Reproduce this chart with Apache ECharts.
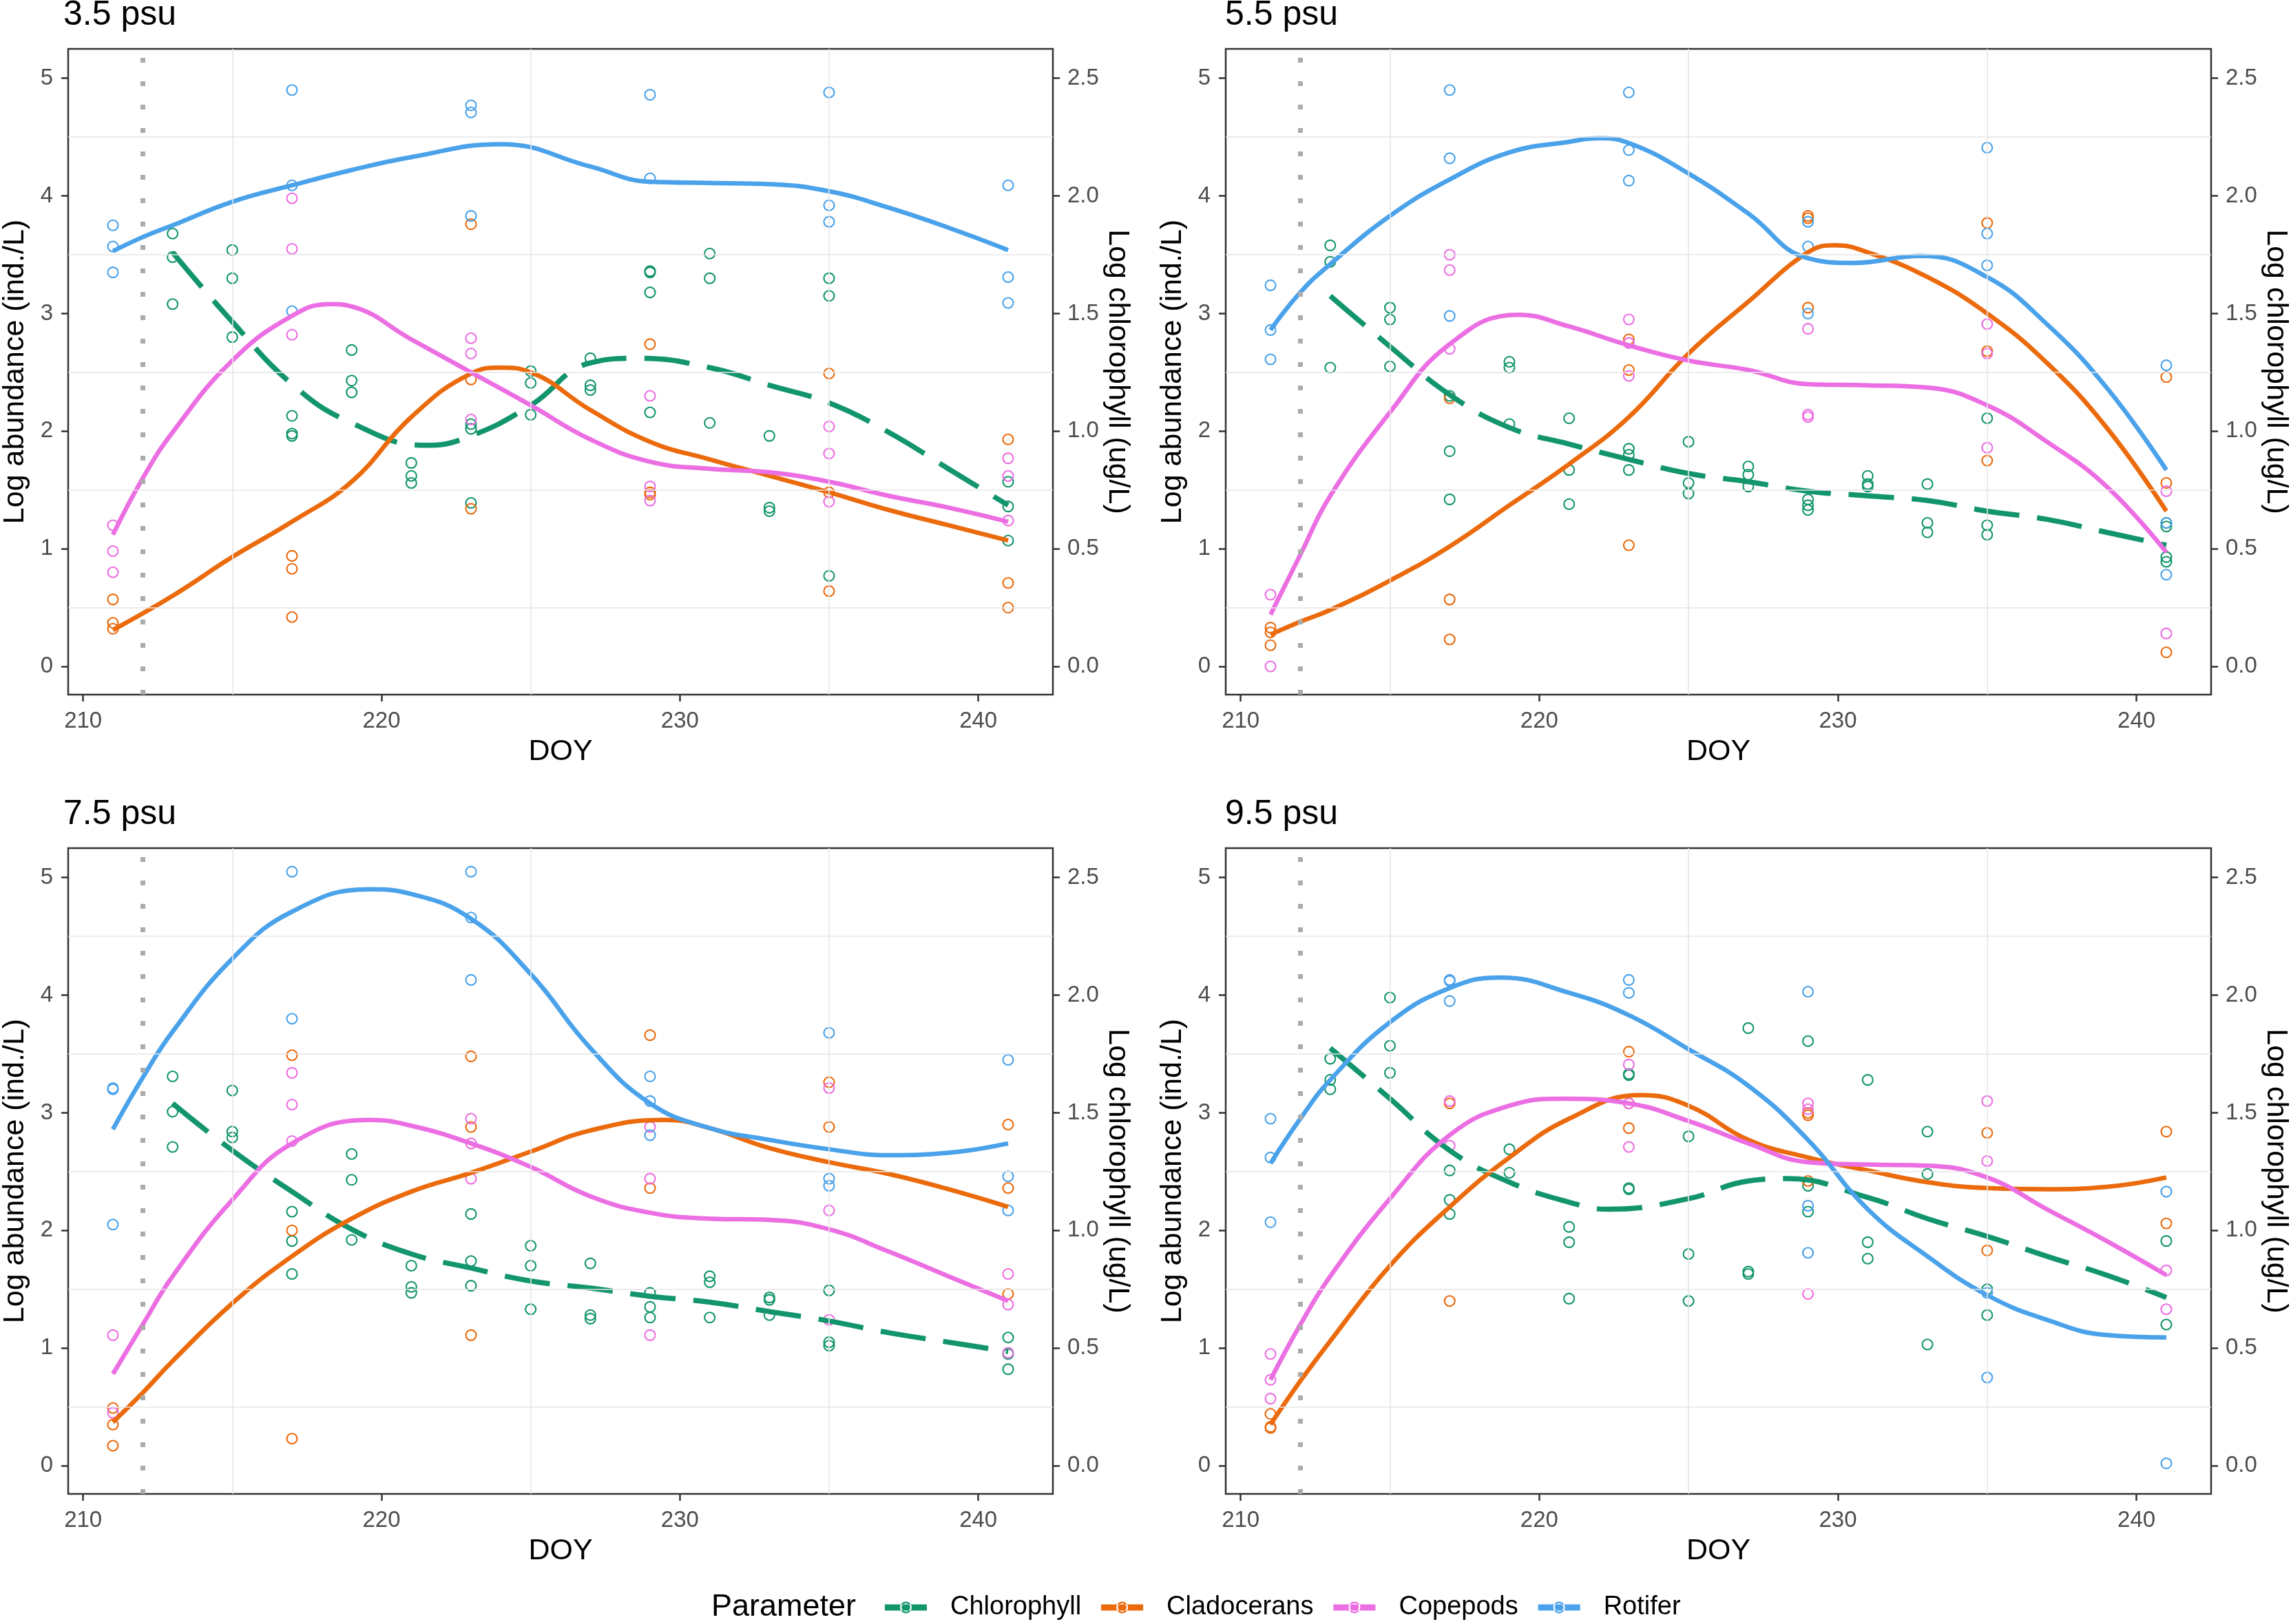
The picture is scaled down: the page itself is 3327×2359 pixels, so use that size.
<!DOCTYPE html>
<html>
<head>
<meta charset="utf-8">
<script src="https://cdn.jsdelivr.net/npm/echarts@6/dist/echarts.min.js"></script>
<style>
html,body{margin:0;padding:0;background:#ffffff;}
#chart{width:3327px;height:2359px;}
</style>
</head>
<body>
<div id="chart"></div>
<script>
// ---------- tick labels / categories ----------
const panelTitles = ['3.5 psu', '5.5 psu', '7.5 psu', '9.5 psu'];
const seriesNames = ['Chlorophyll', 'Cladocerans', 'Copepods', 'Rotifer'];
const xTicks = [210, 220, 230, 240];
const yTicksLeft = [0, 1, 2, 3, 4, 5];
const yTicksRight = [0, 0.5, 1, 1.5, 2, 2.5];
const gridYs = [0.5, 1.5, 2.5, 3.5, 4.5];
const gridXs = [215, 225, 235];
const eventDay = 212;

// sampling days of the observations
const zooDays = [211, 217, 223, 229, 235, 241];
const chlDays = [213, 215, 217, 219, 221, 223, 225, 227, 229, 231, 233, 235, 241];

// ---------- 3.5 psu (observations; chlorophyll on the right axis) ----------
const rot35 = [[3.75,3.57,3.35],[4.90,4.09,3.02],[4.77,4.71,3.83],[4.86,4.15],[4.88,3.92,3.78],[4.09,3.31,3.09]];
const cla35 = [[0.57,0.37,0.32],[0.94,0.83,0.42],[3.76,2.44,1.34],[2.74,1.48,1.46],[2.49,1.48,0.64],[1.93,0.71,0.50]];
const cop35 = [[1.20,0.98,0.80],[3.98,3.55,2.82],[2.79,2.66,2.10],[2.30,1.53,1.41],[2.04,1.81,1.40],[1.77,1.62,1.24]];
const chl35 = [[1.84,1.74,1.54],[1.77,1.65,1.40],[1.065,0.99,0.98],[1.345,1.215,1.165],[0.865,0.81,0.78],[1.03,1.01,0.695],[1.255,1.205,1.07],[1.31,1.195,1.175],[1.68,1.675,1.59,1.08],[1.755,1.65,1.035],[0.98,0.675,0.66],[1.65,1.575,0.385],[0.785,0.68,0.535]];
// smoothed curves: [DOY, value]
const rotFit35 = [[211,3.53],[212,3.65],[213,3.75],[215,3.95],[217,4.09],[219,4.22],[221,4.33],[224,4.44],[227,4.25],[229,4.12],[231,4.11],[233,4.10],[235,4.04],[237,3.90],[239,3.73],[241,3.54]];
const claFit35 = [[211,0.31],[213,0.60],[215,0.93],[217,1.23],[219,1.57],[221,2.12],[223,2.49],[224,2.54],[225,2.50],[227,2.18],[229,1.91],[231,1.76],[233,1.62],[235,1.48],[237,1.33],[239,1.20],[241,1.07]];
const copFit35 = [[211,1.12],[212,1.60],[213,1.99],[215,2.60],[217,2.98],[218.3,3.08],[219,3.06],[221,2.78],[223,2.50],[225,2.22],[227,1.93],[229,1.74],[231,1.68],[233,1.65],[235,1.57],[237,1.45],[239,1.35],[241,1.23]];
const chlFit35 = [[213,1.76],[215,1.465],[217,1.20],[219,1.035],[221.5,0.94],[223,0.98],[225,1.11],[227,1.29],[228.6,1.31],[231,1.27],[233,1.195],[235,1.12],[237,0.995],[239,0.84],[241,0.685]];

// ---------- 5.5 psu ----------
const rot55 = [[3.24,2.86,2.61],[4.90,4.32,2.98],[4.88,4.39,4.13],[3.78,3.57,3.00],[4.41,3.68,3.41],[2.56,1.22,0.78]];
const cla55 = [[0.33,0.29,0.18],[2.28,0.57,0.23],[2.78,2.52,1.03],[3.83,3.81,3.05],[3.77,2.68,1.75],[2.46,1.56,0.12]];
const cop55 = [[0.61,0.0],[3.50,3.37,2.70],[2.95,2.75,2.47],[2.87,2.14,2.12],[2.91,2.66,1.86],[1.49,0.28]];
const chl55 = [[1.79,1.72,1.27],[1.525,1.475,1.275],[1.15,0.915,0.71],[1.295,1.27,1.03],[1.055,0.835,0.69],[0.925,0.90,0.835],[0.955,0.78,0.735],[0.85,0.815,0.765],[0.71,0.685,0.665],[0.81,0.775,0.765],[0.775,0.61,0.57],[1.055,0.60,0.56],[0.61,0.595,0.465,0.445]];
const rotFit55 = [[211,2.86],[212,3.18],[213,3.42],[215,3.83],[217,4.14],[219,4.37],[221,4.46],[222,4.49],[223,4.45],[225,4.19],[227,3.85],[229,3.47],[230.5,3.43],[232.8,3.49],[235,3.31],[237,2.91],[239,2.37],[241,1.67]];
const claFit55 = [[211,0.27],[212,0.38],[213,0.48],[215,0.73],[217,1.02],[219,1.37],[221,1.72],[223,2.12],[225,2.66],[227,3.10],[229,3.52],[229.9,3.58],[231,3.52],[233,3.31],[235,3.00],[237,2.58],[239,2.03],[241,1.32]];
const copFit55 = [[211,0.44],[212,0.95],[213,1.45],[215,2.16],[217,2.74],[219.3,2.99],[221,2.89],[223,2.73],[225,2.60],[227,2.52],[229,2.40],[231,2.39],[233,2.37],[235,2.22],[237,1.91],[239,1.53],[241,0.97]];
const chlFit55 = [[213,1.575],[215,1.36],[217,1.155],[219,1.015],[221,0.945],[223,0.88],[225,0.82],[227,0.785],[229,0.745],[231,0.725],[233,0.705],[235,0.66],[237,0.625],[239,0.57],[241,0.515]];

// ---------- 7.5 psu ----------
const rot75 = [[3.21,3.20,2.05],[5.05,3.80],[5.05,4.66,4.13],[3.31,3.10,2.81],[3.68,2.44,2.38],[3.45,2.46,2.17]];
const cla75 = [[0.49,0.35,0.17],[3.49,2.00,0.23],[3.48,2.88,1.11],[3.66,2.36],[3.26,2.88],[2.90,2.36,1.46]];
const cop75 = [[1.11,0.45],[3.34,3.07,2.76],[2.95,2.74,2.44],[2.88,2.44,1.11],[3.21,2.17,1.24],[1.63,1.37,0.96]];
const chl75 = [[1.655,1.505,1.355],[1.595,1.42,1.395],[1.08,0.955,0.815],[1.325,1.215,0.96],[0.85,0.76,0.735],[1.07,0.87,0.765],[0.935,0.85,0.665],[0.86,0.64,0.625],[0.735,0.675,0.63],[0.805,0.78,0.63],[0.715,0.705,0.64],[0.745,0.525,0.51],[0.545,0.475,0.41]];
const rotFit75 = [[211,2.86],[212,3.30],[213,3.69],[215,4.31],[217,4.71],[219.6,4.90],[221,4.86],[223,4.65],[225,4.18],[227,3.55],[229,3.08],[231,2.87],[233,2.77],[235,2.69],[237,2.64],[239,2.66],[241,2.74]];
const claFit75 = [[211,0.37],[212,0.62],[213,0.89],[215,1.38],[217,1.78],[219,2.10],[221,2.33],[223,2.49],[225,2.67],[227,2.85],[229.5,2.94],[231,2.87],[233,2.70],[235,2.58],[237,2.48],[239,2.35],[241,2.20]];
const copFit75 = [[211,0.78],[212,1.20],[213,1.61],[215,2.26],[217,2.74],[219.6,2.94],[221,2.89],[223,2.74],[225,2.54],[227,2.29],[229,2.15],[231,2.10],[233,2.09],[235,2.01],[237,1.82],[239,1.61],[241,1.40]];
const chlFit75 = [[213,1.54],[215,1.34],[217,1.165],[219,1.005],[221,0.90],[223,0.84],[225,0.785],[227,0.755],[229,0.72],[231,0.695],[233,0.655],[235,0.615],[237,0.565],[239,0.525],[241,0.485]];

// ---------- 9.5 psu ----------
const rot95 = [[2.95,2.62,2.07],[4.13,4.12,3.95],[4.13,4.02],[4.03,2.21,1.81],[1.47,0.75],[2.33,0.02]];
const cla95 = [[0.44,0.33,0.32],[3.08,1.40],[3.52,3.08,2.87],[3.00,2.98,2.42],[2.83,1.83],[2.84,2.06]];
const cop95 = [[0.95,0.73,0.57],[3.10,2.72],[3.41,3.08,2.71],[3.08,3.03,1.46],[3.10,2.59],[1.66,1.33]];
const chl95 = [[1.73,1.64,1.60],[1.99,1.785,1.67],[1.255,1.13,1.07],[1.345,1.245],[1.015,0.95,0.71],[1.665,1.66,1.18,1.175],[1.40,0.90,0.70],[1.86,0.825,0.815],[1.805,1.19,1.08],[1.64,0.95,0.88],[1.42,1.24,0.515],[0.75,0.64],[0.955,0.60]];
const rotFit95 = [[211,2.57],[212,2.95],[213,3.28],[215,3.77],[217,4.06],[218.7,4.15],[221,4.02],[223,3.83],[225,3.54],[227,3.23],[229,2.77],[231,2.18],[233,1.78],[235,1.45],[237,1.24],[239,1.11],[241,1.09]];
const claFit95 = [[211,0.35],[212,0.72],[213,1.06],[215,1.70],[217,2.20],[219,2.62],[221,2.95],[223.4,3.15],[225,3.06],[227,2.77],[229,2.62],[231,2.51],[233,2.41],[235,2.36],[237,2.35],[239,2.37],[241,2.45]];
const copFit95 = [[211,0.73],[212,1.20],[213,1.61],[215,2.27],[217,2.81],[219,3.06],[220.8,3.12],[223,3.08],[225,2.93],[227,2.74],[229,2.58],[231,2.56],[233,2.55],[235,2.45],[237,2.18],[239,1.91],[241,1.62]];
const chlFit95 = [[213,1.775],[215,1.56],[217,1.34],[219,1.205],[221,1.12],[222.3,1.09],[225,1.135],[227,1.21],[228.3,1.22],[231,1.14],[233,1.05],[235,0.975],[237,0.89],[239,0.81],[241,0.715]];

// ---------- styling / layout ----------
const FONT = "'Liberation Sans', Arial, Helvetica, sans-serif";
const COLORS = {Chlorophyll:'#12956D', Cladocerans:'#EB6A0C', Copepods:'#EC6EE3', Rotifer:'#4AA2EA'};
const layout = [{left:93, top:71}, {left:1780, top:71}, {left:93, top:1232}, {left:1780, top:1232}];
const GW = 1436, GH = 938;
// legend key: thick bar with a ring in the middle
const KEY_ICON = 'path://M0,4.5L61,4.5L61,13.5L0,13.5Z' +
  'M22,9A8.5,8.5 0 1,0 39,9A8.5,8.5 0 1,0 22,9Z' +
  'M24.3,9A6.2,6.2 0 1,1 36.7,9A6.2,6.2 0 1,1 24.3,9Z';

const panels = [
  {pts:{Chlorophyll:chl35, Cladocerans:cla35, Copepods:cop35, Rotifer:rot35}, fit:{Chlorophyll:chlFit35, Cladocerans:claFit35, Copepods:copFit35, Rotifer:rotFit35}},
  {pts:{Chlorophyll:chl55, Cladocerans:cla55, Copepods:cop55, Rotifer:rot55}, fit:{Chlorophyll:chlFit55, Cladocerans:claFit55, Copepods:copFit55, Rotifer:rotFit55}},
  {pts:{Chlorophyll:chl75, Cladocerans:cla75, Copepods:cop75, Rotifer:rot75}, fit:{Chlorophyll:chlFit75, Cladocerans:claFit75, Copepods:copFit75, Rotifer:rotFit75}},
  {pts:{Chlorophyll:chl95, Cladocerans:cla95, Copepods:cop95, Rotifer:rot95}, fit:{Chlorophyll:chlFit95, Cladocerans:claFit95, Copepods:copFit95, Rotifer:rotFit95}}
];

function flatten(days, groups){
  const out = [];
  groups.forEach((g, i) => g.forEach(v => out.push([days[i], v])));
  return out;
}

const tickStyle = {color:'#333333', width:2.5};
const labelBase = {fontSize:33, color:'#4D4D4D', fontFamily:FONT};
const nameBase = {fontSize:43, color:'#000000', fontFamily:FONT};

const grids = [], xAxes = [], yAxes = [], series = [], graphics = [];

layout.forEach((l, i) => {
  grids.push({left:l.left, top:l.top, width:GW, height:GH, show:true, borderColor:'#333333', borderWidth:2.5, backgroundColor:'#ffffff'});
  xAxes.push({
    type:'value', gridIndex:i, min:209.5, max:242.5,
    axisLine:{show:false, onZero:false},
    axisTick:{show:true, customValues:xTicks, length:10, lineStyle:tickStyle},
    axisLabel:Object.assign({customValues:xTicks, margin:22}, labelBase),
    splitLine:{show:false},
    name:'DOY', nameLocation:'middle', nameGap:62, nameTextStyle:nameBase
  });
  yAxes.push({
    type:'value', gridIndex:i, position:'left', min:-0.24, max:5.25,
    axisLine:{show:false, onZero:false},
    axisTick:{show:true, customValues:yTicksLeft, length:10, lineStyle:tickStyle},
    axisLabel:Object.assign({customValues:yTicksLeft, margin:22}, labelBase),
    splitLine:{show:false},
    name:'Log abundance (ind./L)', nameLocation:'middle', nameRotate:90, nameGap:55, nameTextStyle:nameBase
  });
  yAxes.push({
    type:'value', gridIndex:i, position:'right', min:-0.12, max:2.625,
    axisLine:{show:false, onZero:false},
    axisTick:{show:true, customValues:yTicksRight, length:10, lineStyle:tickStyle},
    axisLabel:Object.assign({customValues:yTicksRight, margin:21, formatter:v => Number(v).toFixed(1)}, labelBase),
    splitLine:{show:false},
    name:'Log chlorophyll (ug/L)', nameLocation:'middle', nameRotate:-90, nameGap:72, nameTextStyle:nameBase
  });

  // background grid lines (minor grid of the reference)
  series.push({
    type:'line', name:'_grid', xAxisIndex:i, yAxisIndex:2*i, data:[], z:0, silent:true,
    markLine:{silent:true, symbol:['none','none'], label:{show:false}, animation:false,
      lineStyle:{color:'#E6E6E6', width:1.6, type:'solid'},
      emphasis:{disabled:true},
      data:gridYs.map(v => ({yAxis:v})).concat(gridXs.map(v => ({xAxis:v})))}
  });

  const p = panels[i];
  seriesNames.forEach(n => {
    const isChl = n === 'Chlorophyll';
    series.push({
      type:'scatter', name:n, xAxisIndex:i, yAxisIndex:isChl ? 2*i+1 : 2*i,
      data:flatten(isChl ? chlDays : zooDays, p.pts[n]),
      symbol:'circle', symbolSize:15, z:2,
      itemStyle:{color:'rgba(255,255,255,0)', borderColor:COLORS[n], borderWidth:2.1, opacity:1},
      emphasis:{disabled:true}
    });
  });
  seriesNames.forEach(n => {
    const isChl = n === 'Chlorophyll';
    series.push({
      type:'line', name:n, xAxisIndex:i, yAxisIndex:isChl ? 2*i+1 : 2*i,
      data:p.fit[n],
      smooth:0.45, showSymbol:false, symbol:'none', z:3,
      itemStyle:{color:COLORS[n]},
      lineStyle:{color:COLORS[n], width:isChl ? 7.5 : 6.5, type:isChl ? [66, 26] : 'solid', cap:'butt'},
      emphasis:{disabled:true}
    });
  });

  // dotted vertical reference line
  series.push({
    type:'line', name:'_event', xAxisIndex:i, yAxisIndex:2*i, data:[], z:4, silent:true,
    markLine:{silent:true, symbol:['none','none'], label:{show:false}, animation:false,
      lineStyle:{color:'#ABABAB', width:7, type:[7, 27]},
      emphasis:{disabled:true},
      data:[{xAxis:eventDay}]}
  });

  graphics.push({
    type:'text', x:l.left - 1, y:l.top === 71 ? 22 : 1183,
    style:{text:panelTitles[i], fontSize:50, fontFamily:FONT, fill:'#000000',
      textAlign:'left', textVerticalAlign:'middle', align:'left', verticalAlign:'middle'}
  });
});

graphics.push({
  type:'text', x:1033, y:2335,
  style:{text:'Parameter', fontSize:45, fontFamily:FONT, fill:'#000000',
    textAlign:'left', textVerticalAlign:'middle', align:'left', verticalAlign:'middle'}
});

const chart = echarts.init(document.getElementById('chart'), null, {renderer:'canvas'});
chart.setOption({
  animation:false,
  backgroundColor:'#ffffff',
  grid:grids,
  xAxis:xAxes,
  yAxis:yAxes,
  legend:{
    data:seriesNames.map(n => ({name:n, icon:KEY_ICON, itemStyle:{color:COLORS[n], borderWidth:0, opacity:1}})),
    left:1285, top:2316, padding:0, itemWidth:61, itemHeight:18, itemGap:29,
    textStyle:{fontSize:38, color:'#000000', fontFamily:FONT, padding:[0,0,0,29]}
  },
  graphic:graphics,
  series:series
});
</script>
</body>
</html>
